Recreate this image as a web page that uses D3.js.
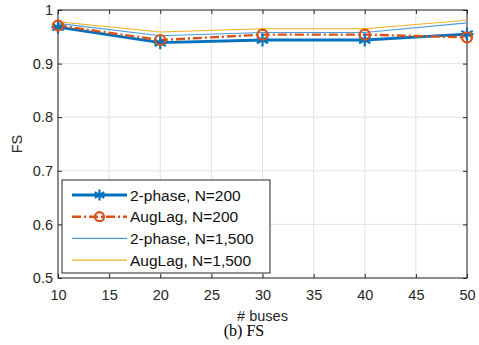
<!DOCTYPE html>
<html lang="en">
<head>
  <meta charset="UTF-8">
  <title>FS</title>
  <script src="https://d3js.org/d3.v7.min.js"></script>
  <style>
    body { margin: 0; padding: 0; background: #fff; }
    svg { display: block; }
    svg text { font-family: "Liberation Sans", Arial, Helvetica, sans-serif; }
  </style>
</head>
<body>
  <script>
    // data
    const buses = [10, 20, 30, 40, 50];
    const twoPhase200 = [0.968, 0.939, 0.944, 0.944, 0.955];
    const augLag200 = [0.971, 0.944, 0.954, 0.954, 0.949];
    const twoPhase1500 = [0.975, 0.952, 0.958, 0.958, 0.976];
    const augLag1500 = [0.978, 0.959, 0.965, 0.965, 0.981];
    const xTicks = [10, 15, 20, 25, 30, 35, 40, 45, 50];
    const yTicks = [0.5, 0.6, 0.7, 0.8, 0.9, 1];

    const series = [
      { name: "2-phase, N=200", values: twoPhase200, color: "#0072BD", width: 2.8, dash: null, marker: "star" },
      { name: "AugLag, N=200", values: augLag200, color: "#D95319", width: 2.4, dash: "9,3,2,3", marker: "circle" },
      { name: "2-phase, N=1,500", values: twoPhase1500, color: "#4C9BD8", width: 1.1, dash: null, marker: null },
      { name: "AugLag, N=1,500", values: augLag1500, color: "#EDB120", width: 1.1, dash: null, marker: null }
    ];

    const width = 479, height = 345;
    const m = { left: 58, right: 12, top: 10, bottom: 67 };

    const svg = d3.select("body").append("svg")
      .attr("width", width)
      .attr("height", height);

    const x = d3.scaleLinear().domain([10, 50]).range([m.left, width - m.right]);
    const y = d3.scaleLinear().domain([0.5, 1]).range([height - m.bottom, m.top]);

    // grid
    svg.append("g")
      .selectAll("line")
      .data(xTicks)
      .join("line")
        .attr("x1", d => x(d)).attr("x2", d => x(d))
        .attr("y1", y(0.5)).attr("y2", y(1))
        .attr("stroke", "#e3e3e3").attr("stroke-width", 1);
    svg.append("g")
      .selectAll("line")
      .data(yTicks)
      .join("line")
        .attr("x1", x(10)).attr("x2", x(50))
        .attr("y1", d => y(d)).attr("y2", d => y(d))
        .attr("stroke", "#e3e3e3").attr("stroke-width", 1);

    // axes (ticks inside, box all round)
    const axisColor = "#262626";
    const styleAxis = g => {
      g.attr("font-family", null);
      g.select(".domain").remove();
      g.selectAll(".tick line").attr("stroke", axisColor);
      g.selectAll(".tick text").attr("fill", axisColor).attr("font-size", 14.5);
    };
    svg.append("g")
      .attr("transform", `translate(0,${y(0.5)})`)
      .call(d3.axisBottom(x).tickValues(xTicks).tickSize(-4).tickPadding(12))
      .call(styleAxis);
    svg.append("g")
      .attr("transform", `translate(0,${y(1)})`)
      .call(d3.axisTop(x).tickValues(xTicks).tickSize(-4).tickFormat(""))
      .call(styleAxis);
    svg.append("g")
      .attr("transform", `translate(${x(10)},0)`)
      .call(d3.axisLeft(y).tickValues(yTicks).tickSize(-4).tickPadding(5).tickFormat(d3.format("")))
      .call(styleAxis);
    svg.append("g")
      .attr("transform", `translate(${x(50)},0)`)
      .call(d3.axisRight(y).tickValues(yTicks).tickSize(-4).tickFormat(""))
      .call(styleAxis);

    svg.append("rect")
      .attr("x", x(10)).attr("y", y(1))
      .attr("width", x(50) - x(10)).attr("height", y(0.5) - y(1))
      .attr("fill", "none").attr("stroke", axisColor).attr("stroke-width", 1);

    // lines
    const line = d3.line().x((d, i) => x(buses[i])).y(d => y(d));
    const drawOrder = [3, 2, 0, 1];
    drawOrder.forEach(k => {
      const s = series[k];
      svg.append("path")
        .datum(s.values)
        .attr("d", line)
        .attr("fill", "none")
        .attr("stroke", s.color)
        .attr("stroke-width", s.width)
        .attr("stroke-dasharray", s.dash);
    });

    function star(g, cx, cy, r, color) {
      [0, 60, 120].forEach(a => {
        const t = a * Math.PI / 180;
        g.append("line")
          .attr("x1", cx - r * Math.sin(t)).attr("y1", cy - r * Math.cos(t))
          .attr("x2", cx + r * Math.sin(t)).attr("y2", cy + r * Math.cos(t))
          .attr("stroke", color).attr("stroke-width", 2.2);
      });
      g.append("line")
        .attr("x1", cx - r).attr("x2", cx + r).attr("y1", cy).attr("y2", cy)
        .attr("stroke", color).attr("stroke-width", 2.2);
    }
    function ring(g, cx, cy, r, color) {
      g.append("circle").attr("cx", cx).attr("cy", cy).attr("r", r)
        .attr("fill", "none").attr("stroke", color).attr("stroke-width", 2.2);
    }

    const mk = svg.append("g");
    series.forEach(s => {
      if (!s.marker) return;
      s.values.forEach((v, i) => {
        if (s.marker === "star") star(mk, x(buses[i]), y(v), 6.5, s.color);
        else ring(mk, x(buses[i]), y(v), 5, s.color);
      });
    });

    // labels
    svg.append("text")
      .attr("x", (x(10) + x(50)) / 2).attr("y", 321)
      .attr("text-anchor", "middle").attr("font-size", 14.5).attr("fill", axisColor)
      .text("# buses");
    svg.append("text")
      .attr("transform", `translate(22,${(y(0.5) + y(1)) / 2}) rotate(-90)`)
      .attr("text-anchor", "middle").attr("font-size", 14.5).attr("fill", axisColor)
      .text("FS");
    svg.append("text")
      .attr("x", 244).attr("y", 336)
      .attr("text-anchor", "middle").attr("font-size", 16)
      .style("font-family", "'Liberation Serif', 'Times New Roman', serif")
      .attr("fill", "#000")
      .text("(b) FS");

    // legend
    const lg = svg.append("g").attr("transform", "translate(62,180)");
    lg.append("rect").attr("width", 208).attr("height", 93)
      .attr("fill", "#fff").attr("stroke", axisColor).attr("stroke-width", 1);
    series.forEach((s, i) => {
      const yy = 15 + i * 21.7;
      lg.append("line").attr("x1", 10).attr("x2", 65).attr("y1", yy).attr("y2", yy)
        .attr("stroke", s.color).attr("stroke-width", s.width).attr("stroke-dasharray", s.dash);
      if (s.marker === "star") star(lg, 37.5, yy, 5.5, s.color);
      if (s.marker === "circle") ring(lg, 37.5, yy, 4.5, s.color);
      lg.append("text").attr("x", 68).attr("y", yy + 5.5)
        .attr("font-size", 15.5).attr("fill", "#111").text(s.name);
    });
  </script>
</body>
</html>
